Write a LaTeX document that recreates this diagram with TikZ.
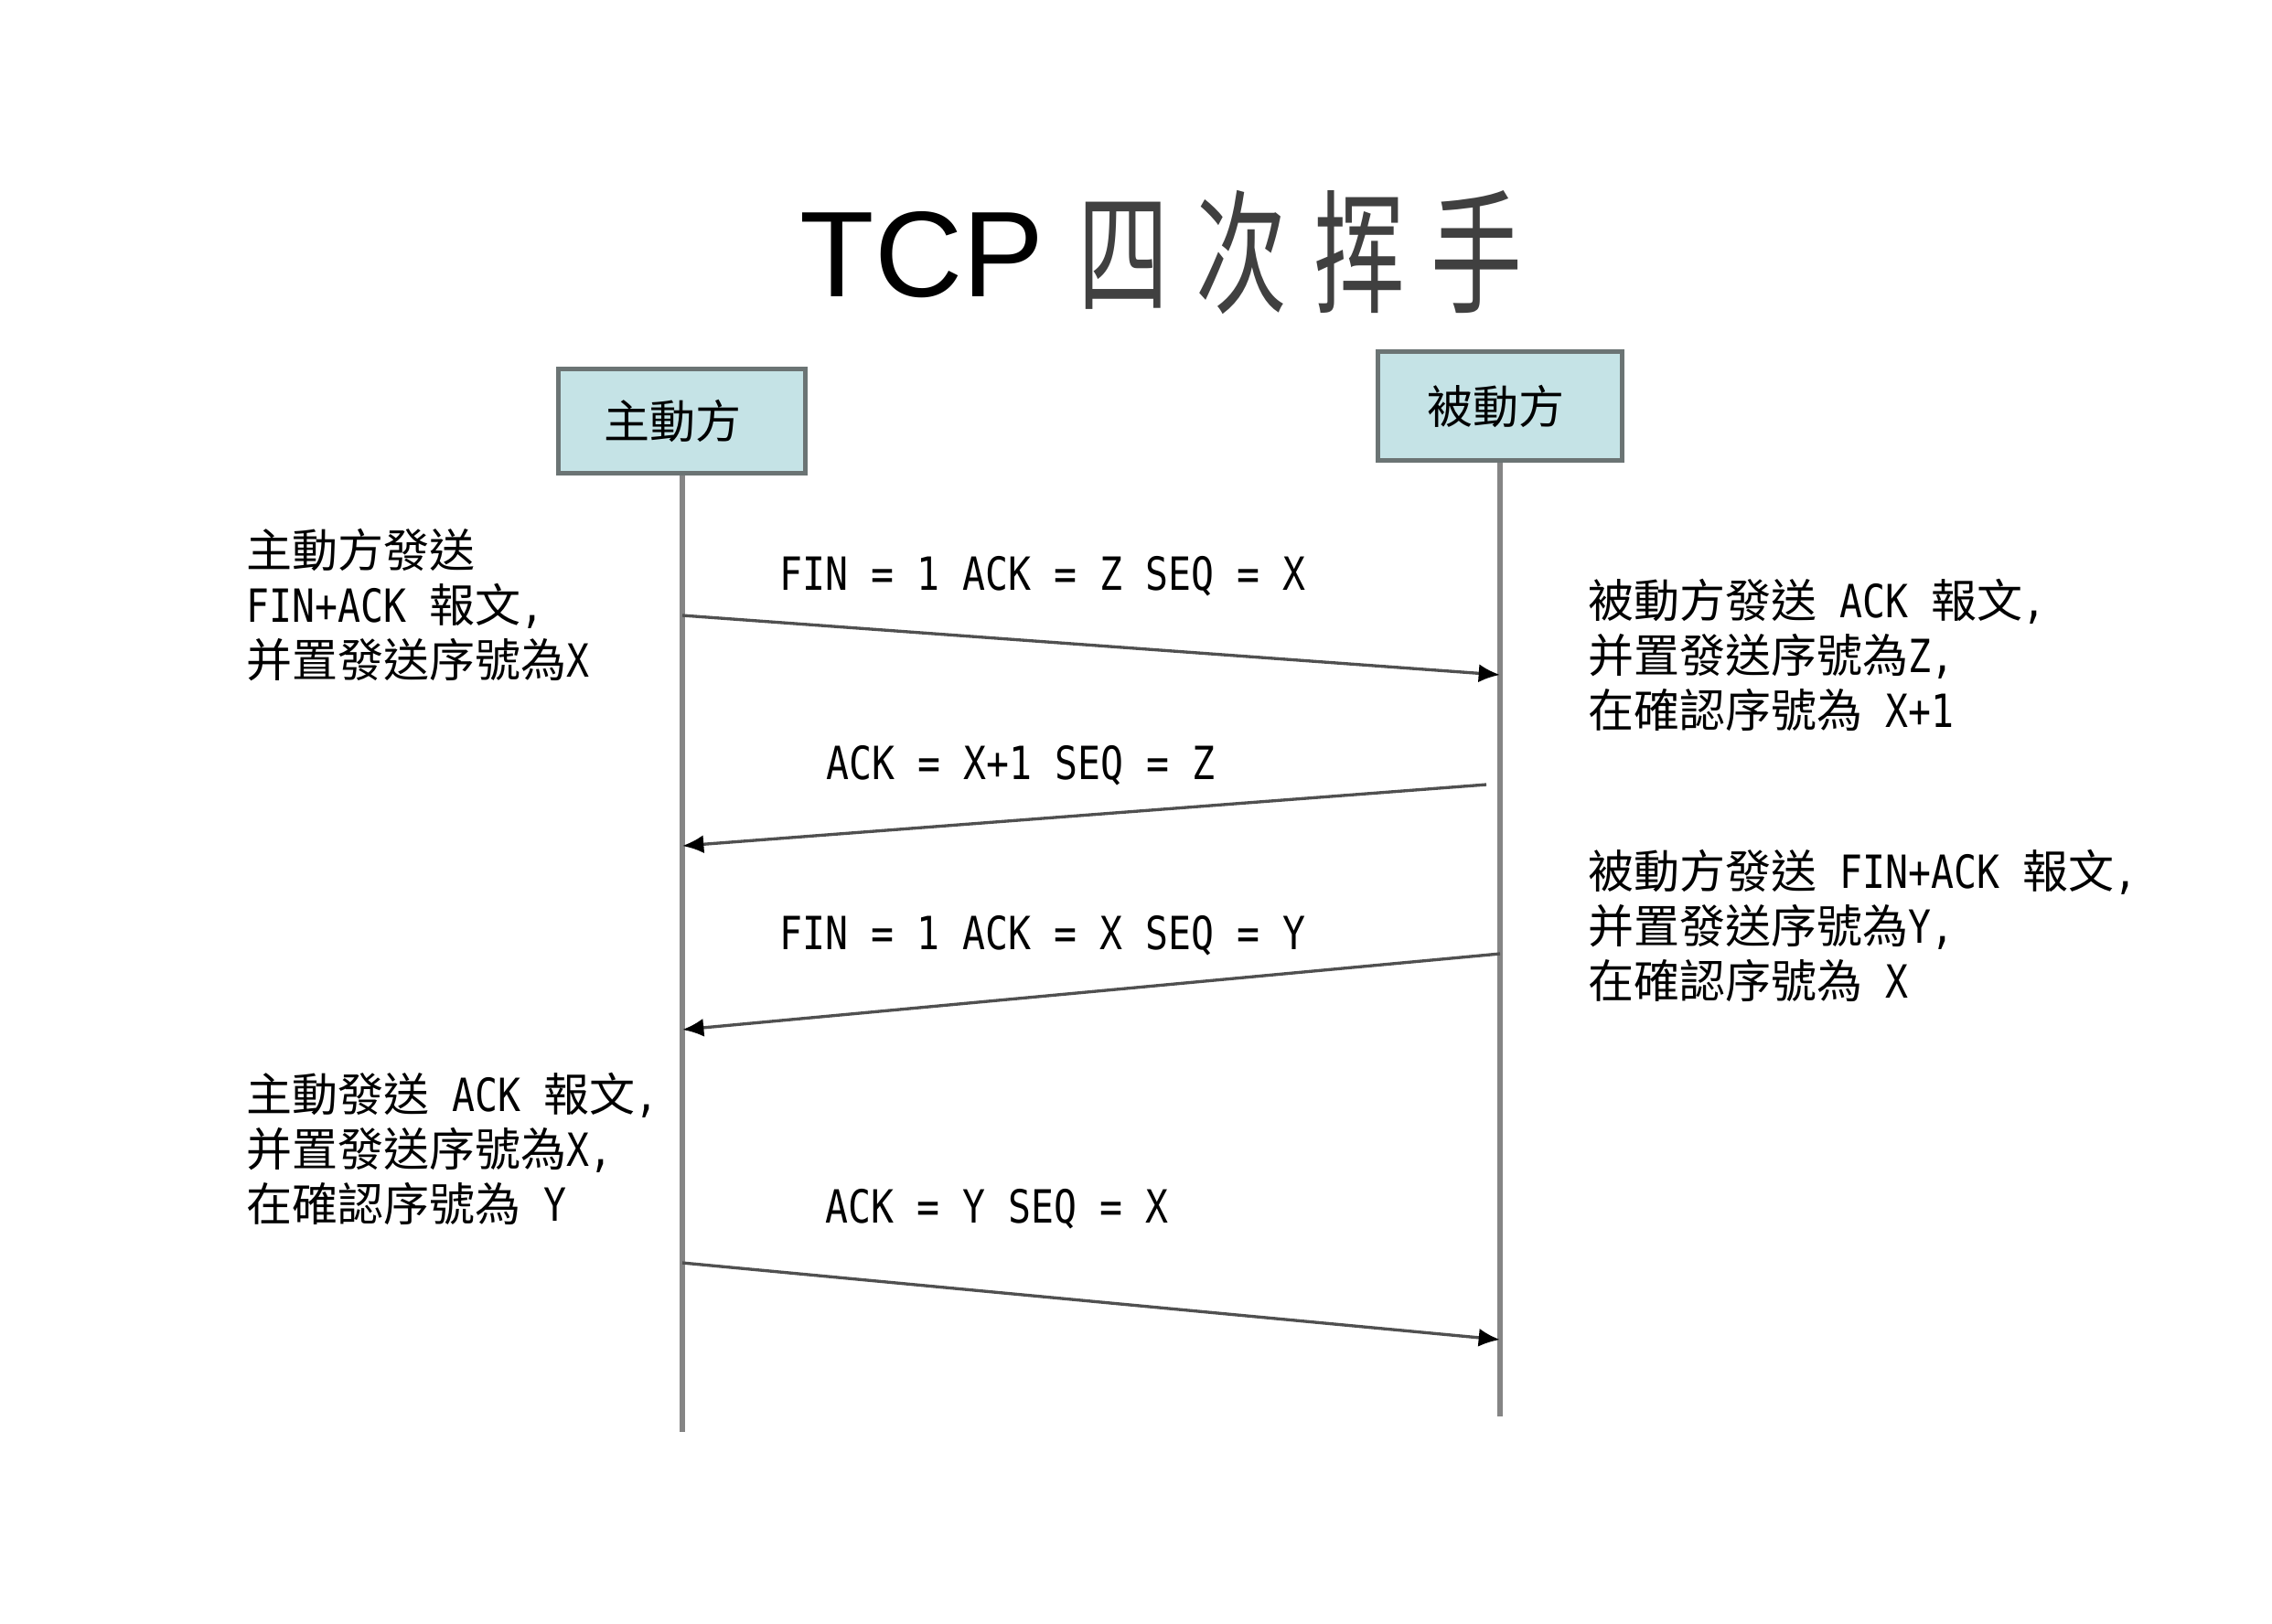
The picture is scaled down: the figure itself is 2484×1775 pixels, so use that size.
\documentclass[tikz,border=0pt]{standalone}
\usepackage{fontspec}
\usetikzlibrary{arrows.meta}
\setmainfont{Noto Sans CJK TC}
\newfontfamily\cjk{Noto Sans CJK TC}
\newfontfamily\lat[FakeStretch=0.83]{DejaVu Sans Mono}
\newfontfamily\titlecjk[FakeStretch=0.68]{Noto Sans CJK SC}
\newfontfamily\titlelat{Liberation Sans}
\newcommand\La[1]{{\lat #1}}
\definecolor{boxfill}{HTML}{C5E3E6}
\definecolor{boxedge}{HTML}{6B7474}
\definecolor{lifec}{HTML}{858585}
\definecolor{arrowc}{HTML}{505050}
\begin{document}
\begin{tikzpicture}[x=0.3pt,y=-0.3pt,
  lifebox/.style={draw=boxedge, line width=1.5pt, fill=boxfill, inner sep=0pt,
    font=\fontsize{15pt}{18pt}\selectfont\cjk},
  lifeline/.style={draw=lifec, line width=2pt},
  msg/.style={draw=arrowc, line width=1pt, -{Latex[length=7pt,width=6pt,color=black]}},
  msglabel/.style={anchor=base west, inner sep=0pt, font=\fontsize{15pt}{18pt}\selectfont\lat},
  note/.style={anchor=base west, inner sep=0pt, align=left, font=\fontsize{15pt}{18pt}\selectfont\cjk}
]
\useasboundingbox (0,0) rectangle (2484,1775);
\fill[white] (0,0) rectangle (2484,1775);

% title
\node[anchor=base west, inner sep=0pt, font=\fontsize{40pt}{48pt}\selectfont\titlelat] (ttcp) at (874,324) {TCP};
\node[anchor=base west, inner sep=0pt, font=\fontsize{44pt}{52pt}\selectfont\titlecjk, text=black!75] (tcjk) at (1178,331) {四\kern8.7pt 次\kern8.7pt 挥\kern8.7pt 手};

% participants
\node[lifebox, minimum width=81pt, minimum height=34.2pt] (A) at (745,460) {\hspace*{-6pt}\raisebox{-1pt}{主動方}};
\node[lifebox, minimum width=80.1pt, minimum height=35.7pt] (B) at (1640,444) {\hspace*{-3pt}\raisebox{-0.5pt}{被動方}};

\coordinate (Aend) at (746,1566);
\coordinate (Bend) at (1640,1549);
\draw[lifeline] (A.south -| Aend) -- (Aend);
\draw[lifeline] (B.south -| Bend) -- (Bend);

% message points
\coordinate (m1s) at (746,673);  \coordinate (m1e) at (1640,738);
\coordinate (m2s) at (1625,858); \coordinate (m2e) at (746,925);
\coordinate (m3s) at (1640,1043); \coordinate (m3e) at (746,1126);
\coordinate (m4s) at (746,1381); \coordinate (m4e) at (1640,1465);

\draw[msg] (m1s) -- (m1e);
\draw[msg] (m2s) -- (m2e);
\draw[msg] (m3s) -- (m3e);
\draw[msg] (m4s) -- (m4e);

% message labels
\node[msglabel] (l1) at (852,645) {FIN = 1 ACK = Z SEQ = X};
\node[msglabel] (l2) at (903,852) {ACK = X+1 SEQ = Z};
\node[msglabel] (l3) at (852,1038) {FIN = 1 ACK = X SEQ = Y};
\node[msglabel] (l4) at (902,1337) {ACK = Y SEQ = X};

% notes (anchor is the baseline of the last line)
\node[note] (n1) at (269,740) {主動方發送\\ \La{FIN+ACK~}報文\La{,}\\ 并置發送序號為\La{X}};
\node[note] (n2) at (1736,795) {被動方發送\La{~ACK~}報文\La{,}\\ 并置發送序號為\La{Z,}\\ 在確認序號為\La{~X+1}};
\node[note] (n3) at (1736,1091) {被動方發送\La{~FIN+ACK~}報文\La{,}\\ 并置發送序號為\La{Y,}\\ 在確認序號為\La{~X}};
\node[note] (n4) at (269,1335) {主動發送\La{~ACK~}報文\La{,}\\ 并置發送序號為\La{X,}\\ 在確認序號為\La{~Y}};
\end{tikzpicture}
\end{document}
